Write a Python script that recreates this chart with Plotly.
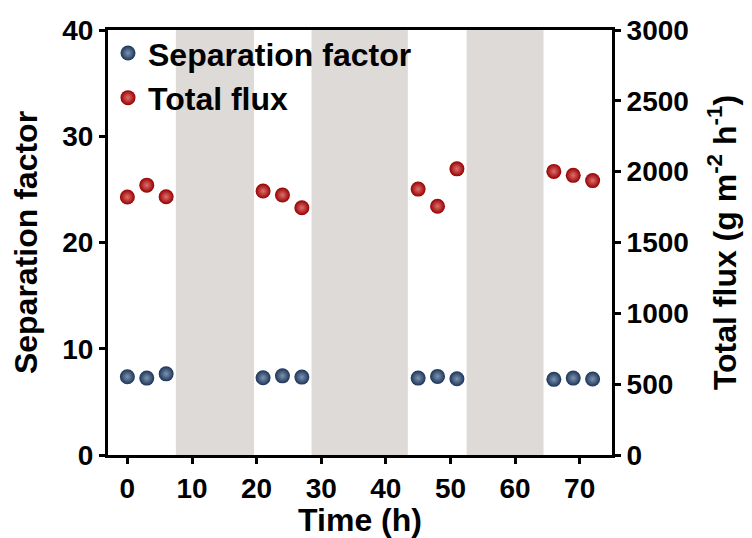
import plotly.graph_objects as go

time_h = [0, 3, 6, 21, 24, 27, 45, 48, 51, 66, 69, 72]
sep_factor = [7.36, 7.24, 7.64, 7.27, 7.45, 7.33, 7.24, 7.40, 7.17, 7.12, 7.24, 7.15]
total_flux = [1821, 1905, 1823, 1863, 1835, 1745, 1877, 1756, 2020, 2002, 1974, 1937]

shade_start = [7.5, 28.5, 52.5]
shade_end = [19.6, 43.4, 64.4]

FONT = "Liberation Sans, Arial, sans-serif"
BLUE = "#1a3558"
RED = "#960000"

fig = go.Figure()
fig.add_trace(go.Scatter(
    x=time_h, y=sep_factor, mode="markers", name="Separation factor",
    marker=dict(size=15, color=BLUE, line=dict(width=0),
                gradient=dict(type="radial", color="#7f93b0")),
    yaxis="y"))
fig.add_trace(go.Scatter(
    x=time_h, y=total_flux, mode="markers", name="Total flux",
    marker=dict(size=15, color=RED, line=dict(width=0),
                gradient=dict(type="radial", color="#e07070")),
    yaxis="y2"))

shapes = []
for s, e in zip(shade_start, shade_end):
    shapes.append(dict(type="rect", xref="x", yref="paper", x0=s, x1=e, y0=0, y1=1,
                       fillcolor="#dedad7", line=dict(width=0), layer="below"))

tickfont = dict(family=FONT, size=28, color="black", weight="bold")
titlefont = dict(family=FONT, size=32, color="black", weight="bold")

axis_common = dict(showgrid=False, zeroline=False, showline=True, linecolor="black",
                   linewidth=3, ticks="outside", tickwidth=3, ticklen=6,
                   tickcolor="black", tickfont=tickfont)

fig.update_layout(
    width=752, height=538,
    margin=dict(l=108, r=140, t=30, b=76),
    paper_bgcolor="white", plot_bgcolor="white",
    font=dict(family=FONT, size=28, color="black", weight="bold"),
    shapes=shapes,
    showlegend=True,
    legend=dict(x=0.0, y=1.01, xanchor="left", yanchor="top",
                bgcolor="rgba(0,0,0,0)", font=titlefont,
                itemsizing="trace", tracegroupgap=0),
    xaxis=dict(range=[-3, 75], tickvals=[0, 10, 20, 30, 40, 50, 60, 70],
               mirror=True,
               title=dict(text="Time (h)", font=titlefont, standoff=0),
               **axis_common),
    yaxis=dict(range=[0, 40], tickvals=[0, 10, 20, 30, 40],
               title=dict(text="Separation factor", font=titlefont, standoff=16),
               **axis_common),
    yaxis2=dict(range=[0, 3000], tickvals=[0, 500, 1000, 1500, 2000, 2500, 3000],
                overlaying="y", side="right",
                title=dict(text="Total flux (g m<sup>-2</sup> h<sup>-1</sup>)",
                           font=titlefont, standoff=26),
                **axis_common),
)

fig.write_html("out.html")
